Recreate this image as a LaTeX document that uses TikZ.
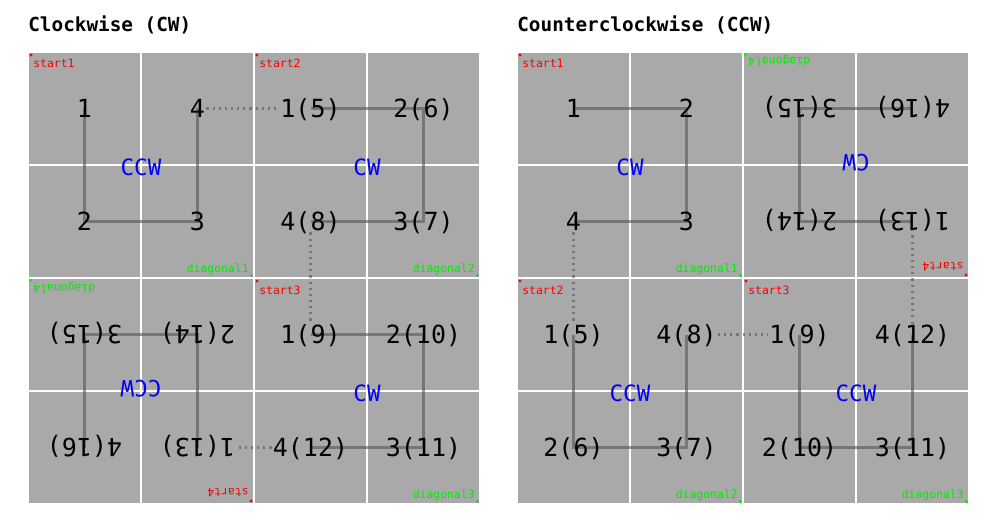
\documentclass[tikz,border=0pt]{standalone}
\usepackage{fontspec}
\setmonofont{DejaVu Sans Mono}
\definecolor{cellgray}{RGB}{169,169,169}
\definecolor{linkgray}{RGB}{85,85,85}
\definecolor{startred}{RGB}{255,0,0}
\definecolor{diaggreen}{RGB}{0,235,0}
\definecolor{dirblue}{RGB}{0,0,255}
\newcommand{\cornerlabel}[2]{\ifnum#2=1 #1\else\pgfmathtruncatemacro{\cornerno}{4*(#2-1)+#1}#1(\cornerno)\fi}
\tikzset{
  cellbox/.style={fill=cellgray,draw=white,line width=1.1pt},
  linkline/.style={draw=linkgray,draw opacity=.6,line width=1.7pt},
  hopline/.style={draw=linkgray,draw opacity=.6,line width=1.2pt,dash pattern=on 1.2pt off 2.3pt},
  cornernum/.style={font=\ttfamily\fontsize{14.2}{14.2}\selectfont,inner sep=.6pt,text height=10.8pt,text depth=0pt},
  dirlabel/.style={font=\ttfamily\fontsize{12.8}{12.8}\selectfont,text=dirblue,inner sep=0pt},
  startlabel/.style={font=\ttfamily\fontsize{6.5}{6.5}\selectfont,text=startred,inner sep=0pt,anchor=base west},
  diaglabel/.style={font=\ttfamily\fontsize{6.5}{6.5}\selectfont,text=diaggreen,inner sep=0pt,anchor=base east},
  paneltitle/.style={font=\ttfamily\bfseries\fontsize{11}{11}\selectfont,inner sep=0pt,anchor=base west}
}
\begin{document}
\begin{tikzpicture}[x=0.02cm,y=-0.02cm]
  \fill[white] (0,0) rectangle (1000,530);
  \node[paneltitle] (cw-title) at (28,32) {Clockwise (CW)};
  \node[paneltitle] (ccw-title) at (517,32) {Counterclockwise (CCW)};
  % block name / centre / label / turn sign / rotation / quarter
  \foreach \blk/\cx/\cy/\dir/\s/\rot/\q in {b1/141/165/CCW/-1/0/1,b2/367/165/CW/1/0/2,b3/367/391/CW/1/0/3,b4/141/391/CCW/-1/180/4,
                                            c1/630/165/CW/1/0/1,c2/630/391/CCW/-1/0/2,c3/856/391/CCW/-1/0/3,c4/856/165/CW/1/180/4}
  {
    \begin{scope}[shift={(\cx,\cy)},rotate=\rot]
      \foreach \u/\v in {-113/-113,0/-113,-113/0,0/0}
        \filldraw[cellbox] (\u,\v) rectangle ++(113,113);
      \coordinate (\blk-p1) at (-56.5,-56.5);
      \coordinate (\blk-p2) at (56.5*\s,-56.5*\s);
      \coordinate (\blk-p3) at (56.5,56.5);
      \coordinate (\blk-p4) at (-56.5*\s,56.5*\s);
      \draw[linkline] (\blk-p1) -- (\blk-p2) -- (\blk-p3) -- (\blk-p4);
      \foreach \i in {1,...,4}
        \node[cornernum,rotate=\rot] (\blk-n\i) at (\blk-p\i) {\cornerlabel{\i}{\q}};
      \node[dirlabel,rotate=\rot] (\blk-dir) at (0,2) {\dir};
      \fill[startred] (-110,-110) circle (1.6);
      \node[startlabel,rotate=\rot] (\blk-start) at (-108,-97) {start\q};
      \fill[diaggreen] (110.5,110.5) circle (1.6);
      \node[diaglabel,rotate=\rot] (\blk-diag) at (108,107) {diagonal\q};
    \end{scope}
  }
  % jumps between quarters
  \foreach \a/\z in {b1-n4/b2-n1,b2-n4/b3-n1,b3-n4/b4-n1,c1-n4/c2-n1,c2-n4/c3-n1,c3-n4/c4-n1}
    \draw[hopline] (\a) -- (\z);
\end{tikzpicture}
\end{document}
